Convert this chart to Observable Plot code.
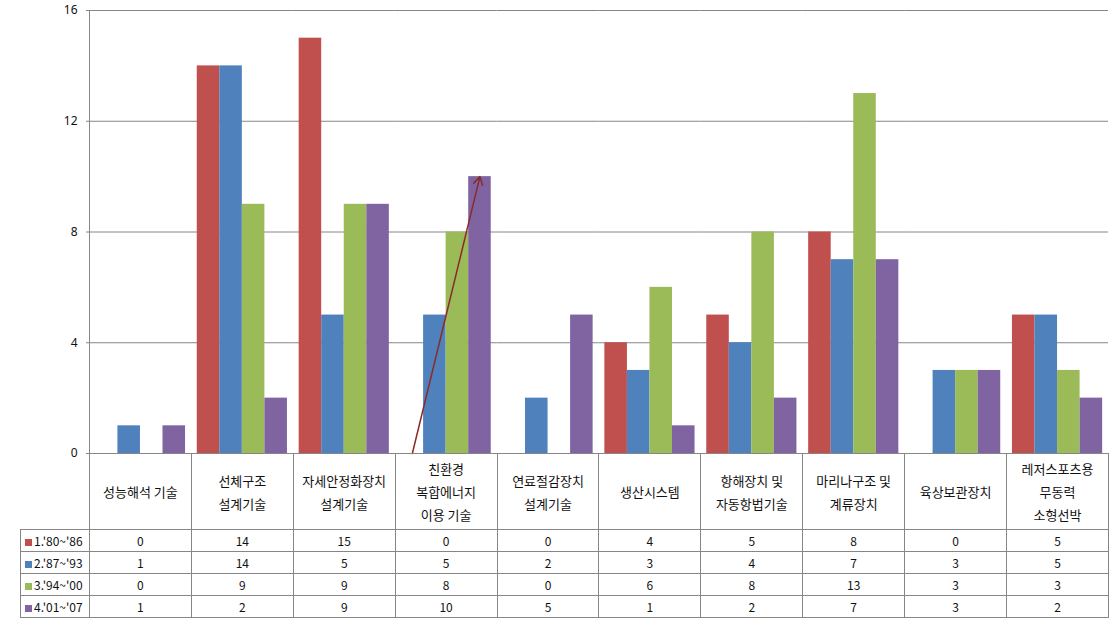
<!DOCTYPE html>
<html>
<head>
<meta charset="utf-8">
<script src="https://cdn.jsdelivr.net/npm/d3@7"></script>
<script src="https://cdn.jsdelivr.net/npm/@observablehq/plot@0.6"></script>
<style>
  html, body { margin: 0; padding: 0; background: #fff; }
  #wrap { position: relative; width: 1119px; height: 622px; font-family: "Noto Sans CJK KR", "Noto Sans", sans-serif; }
  #chart { position: absolute; left: 0; top: 0; }
  #vline { position: absolute; left: 88.5px; top: 10px; height: 443px; border-left: 1px solid #868686; }
  table { position: absolute; left: 20px; top: 453px; border-collapse: collapse; table-layout: fixed; width: 1088px; }
  td { border: 1px solid #868686; padding: 0; text-align: center; color: #111; }
  tr.head td { height: 75px; font-size: 13px; line-height: 23px; white-space: pre-line; vertical-align: middle; }
  tr.head td.blank { border-top: none; border-left: none; }
  tr.data td { height: 21px; font-size: 12px; line-height: 21px; }
  tr.data td.lab { text-align: left; padding-left: 4px; font-size: 12px; }
  .sw { display: inline-block; width: 7px; height: 7px; margin-right: 2px; vertical-align: 0px; }
</style>
</head>
<body>
<div id="wrap">
  <div id="chart"></div>
  <div id="vline"></div>
</div>
<script>
const categories = ["성능해석 기술", "선체구조\n설계기술", "자세안정화장치\n설계기술", "친환경\n복합에너지\n이용 기술", "연료절감장치\n설계기술", "생산시스템", "항해장치 및\n자동항법기술", "마리나구조 및\n계류장치", "육상보관장치", "레저스포츠용\n무동력\n소형선박"];
const seriesNames = ["1.'80~'86", "2.'87~'93", "3.'94~'00", "4.'01~'07"];
const s1 = [0, 14, 15, 0, 0, 4, 5, 8, 0, 5];
const s2 = [1, 14, 5, 5, 2, 3, 4, 7, 3, 5];
const s3 = [0, 9, 9, 8, 0, 6, 8, 13, 3, 3];
const s4 = [1, 2, 9, 10, 5, 1, 2, 7, 3, 2];
const colors = ["#C0504D", "#4F81BD", "#9BBB59", "#8064A2"];
const yTicks = [0, 4, 8, 12, 16];
// annotation arrow: from category 4 series 1 value to series 4 value
const arrowData = [{cat: categories[3], a: seriesNames[0], b: seriesNames[3], v1: s1[3], v2: s4[3]}];

const seriesValues = [s1, s2, s3, s4];
const rows = [];
categories.forEach((c, i) => seriesNames.forEach((s, j) => rows.push({cat: c, series: s, value: seriesValues[j][i]})));

const plot = Plot.plot({
  width: 1119,
  height: 470,
  marginLeft: 89,
  marginRight: 11,
  marginTop: 10,
  marginBottom: 17,
  style: {fontFamily: "'Noto Sans', sans-serif", fontSize: "12px", color: "#111", overflow: "visible"},
  fx: {domain: categories, padding: 0, round: false, axis: null},
  x: {domain: seriesNames, paddingInner: 0, paddingOuter: 0.26, round: false, axis: null},
  y: {domain: [0, 16]},
  color: {domain: seriesNames, range: colors},
  marks: [
    Plot.ruleY(yTicks, {stroke: "#868686", strokeOpacity: 1}),
    Plot.barY(rows, {fx: "cat", x: "series", y: "value", fill: "series"}),
    Plot.axisY({ticks: yTicks, tickSize: 3, tickPadding: 9, stroke: "#868686", label: null, fontSize: 12}),
    Plot.arrow(arrowData, {fx: "cat", x1: "a", y1: "v1", x2: "b", y2: "v2", stroke: "#8B2A2A", strokeWidth: 1.5, headLength: 9})
  ]
});
document.getElementById("chart").appendChild(plot);

// data table below the chart
const table = document.createElement("table");
const colgroup = document.createElement("colgroup");
const c0 = document.createElement("col"); c0.style.width = "69px"; colgroup.appendChild(c0);
categories.forEach(() => { const c = document.createElement("col"); c.style.width = "101.9px"; colgroup.appendChild(c); });
table.appendChild(colgroup);
const head = document.createElement("tr"); head.className = "head";
const blank = document.createElement("td"); blank.className = "blank"; head.appendChild(blank);
categories.forEach(c => { const td = document.createElement("td"); td.textContent = c; head.appendChild(td); });
table.appendChild(head);
seriesNames.forEach((s, j) => {
  const tr = document.createElement("tr"); tr.className = "data";
  const lab = document.createElement("td"); lab.className = "lab";
  const sw = document.createElement("span"); sw.className = "sw"; sw.style.background = colors[j];
  lab.appendChild(sw); lab.appendChild(document.createTextNode(s));
  tr.appendChild(lab);
  seriesValues[j].forEach(v => { const td = document.createElement("td"); td.textContent = v; tr.appendChild(td); });
  table.appendChild(tr);
});
document.getElementById("wrap").appendChild(table);
</script>
</body>
</html>
